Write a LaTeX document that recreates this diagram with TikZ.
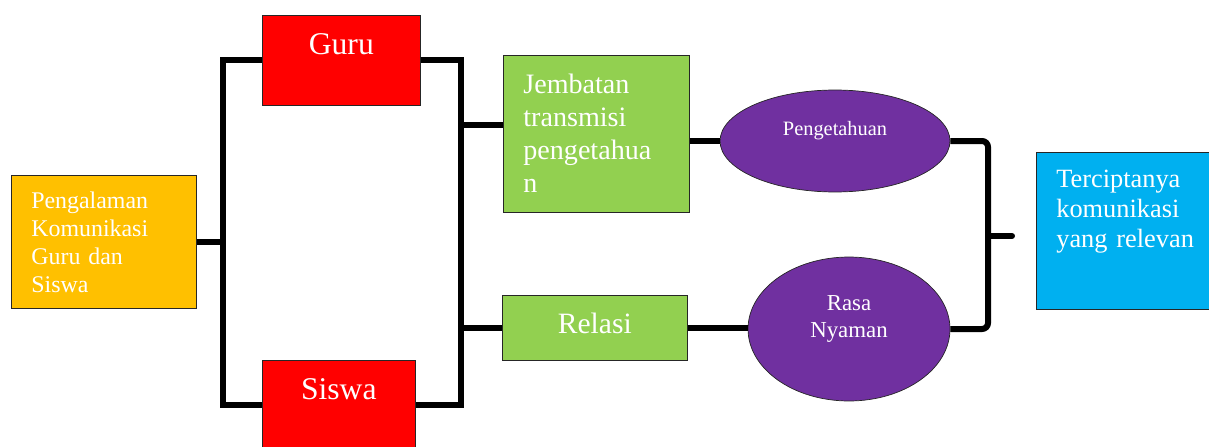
\documentclass[tikz,border=0pt]{standalone}
\usepackage{fontspec}
\setmainfont{Liberation Serif}
\usepackage{xcolor}
\usepackage{tikz}
\usetikzlibrary{shapes,calc}
\definecolor{pkYellow}{HTML}{FFC000}
\definecolor{guRed}{HTML}{FF0000}
\definecolor{jbGreen}{HTML}{92D050}
\definecolor{evPurple}{HTML}{7030A0}
\definecolor{tcBlue}{HTML}{00B0F0}
\tikzstyle{tsBox} = [
    rectangle,
    draw=black!85,
    line width=0.4pt,
    text=white,
    inner xsep=0pt,
    inner ysep=0pt,
    anchor=north west
]
\tikzstyle{tsOval} = [
    ellipse,
    draw=black!85,
    line width=0.4pt,
    fill=evPurple,
    text=white,
    inner sep=0pt
]
\tikzstyle{tsLink} = [
    draw=black,
    line width=0.12cm
]

\begin{document}
\begin{tikzpicture}[x=0.02cm, y=-0.02cm]

        \useasboundingbox (0,0) rectangle (1209,446);

        % boxes
        \node[  tsBox, fill=pkYellow,
                inner xsep=0.4cm, text width=2.9cm, align=left,
                text height=0.66cm, text depth=2.0cm,
                font=\fontsize{13.6}{15.9}\selectfont] (pengalaman) at (11,175)
                {Pengalaman\\Komunikasi\\Guru dan\\Siswa};

        \node[  tsBox, fill=guRed,
                text width=3.16cm, align=center,
                text height=0.78cm, text depth=1.02cm,
                font=\fontsize{18}{21}\selectfont] (guru) at (262,15) {Guru};

        \node[  tsBox, fill=guRed,
                text width=3.06cm, align=center,
                text height=0.78cm, text depth=1.02cm,
                font=\fontsize{18}{21}\selectfont] (siswa) at (262,360) {Siswa};

        \node[  tsBox, fill=jbGreen,
                inner xsep=0.4cm, text width=2.92cm, align=left,
                text height=0.76cm, text depth=2.38cm,
                font=\fontsize{16}{18.8}\selectfont] (jembatan) at (503,55)
                {Jembatan\\transmisi\\pengetahua\\n};

        \node[  tsBox, fill=jbGreen,
                text width=3.7cm, align=center,
                text height=0.76cm, text depth=0.54cm,
                font=\fontsize{16.8}{19}\selectfont] (relasi) at (502,295) {Relasi};

        \node[  tsBox, fill=tcBlue,
                inner xsep=0.4cm, text width=2.66cm, align=left,
                text height=0.7cm, text depth=2.44cm,
                font=\fontsize{15}{17}\selectfont] (tercipta) at (1036,152)
                {Terciptanya\\komunikasi\\\mbox{yang relevan}};

        % ovals
        \node[  tsOval, minimum width=4.6cm, minimum height=2.04cm,
                text height=0.3cm, text depth=0.54cm,
                font=\fontsize{11.6}{14}\selectfont] (pengetahuan) at (835,141) {Pengetahuan};

        \node[  tsOval, minimum width=4.04cm, minimum height=2.88cm,
                text width=2cm, align=center,
                text height=0.3cm, text depth=1.06cm,
                font=\fontsize{13}{15.9}\selectfont] (nyaman) at (849,329) {Rasa\\Nyaman};

        % bracket points
        \coordinate (kiri) at (223,242);
        \coordinate (kanan) at (461,242);
        \coordinate (kurawal) at (988,236);
        \coordinate (ujung) at (1012,236);

        % connectors
        \draw[tsLink] (pengalaman.east) -- (pengalaman.east -| kiri);
        \draw[tsLink] (guru.west) -| (kiri) |- (siswa.west);
        \draw[tsLink] (guru.east) -| (kanan) |- (siswa.east);
        \draw[tsLink] ([yshift=0.17cm]jembatan.west) -- ([yshift=0.17cm]jembatan.west -| kanan);
        \draw[tsLink] (relasi.west) -- (relasi.west -| kanan);
        \draw[tsLink] (jembatan.east |- pengetahuan.west) -- (pengetahuan.west);
        \draw[tsLink] (relasi.east) -- (relasi.east -| nyaman.west);
        \draw[tsLink, rounded corners=0.12cm] (pengetahuan.east) -| (kurawal) |- (nyaman.east);
        \draw[tsLink, line cap=round] (kurawal) -- (ujung);

\end{tikzpicture}
\end{document}
